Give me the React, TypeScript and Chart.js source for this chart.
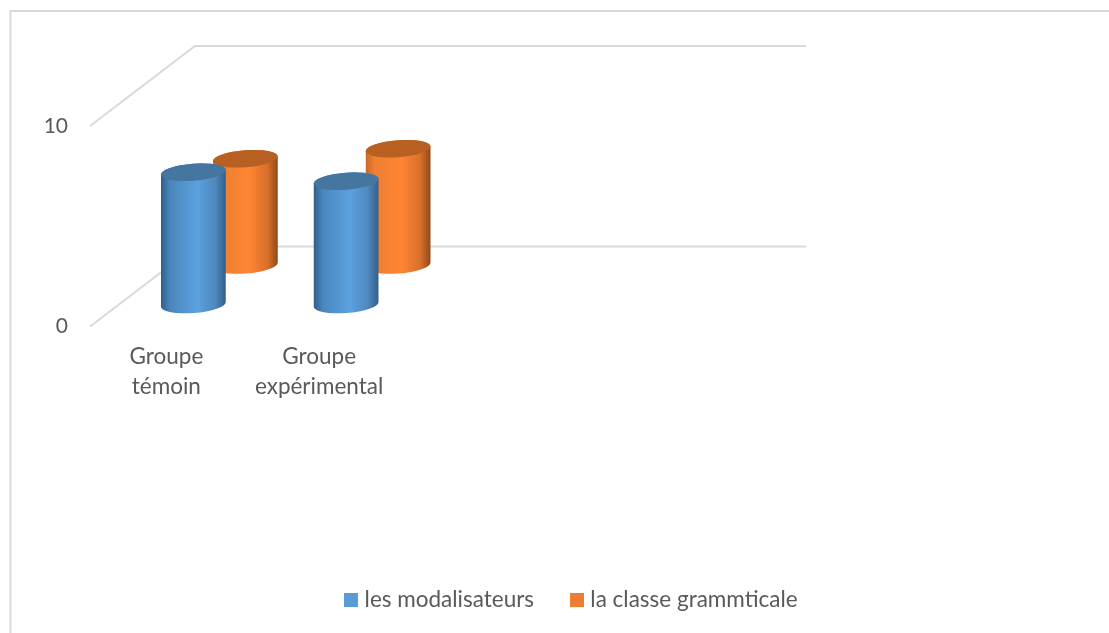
import React, { useEffect, useRef } from "react";
import { Chart, registerables } from "chart.js";

Chart.register(...registerables);

const categories = [["Groupe", "témoin"], ["Groupe", "expérimental"], "", ""];
const modalisateurs = [6.6, 6.15, null, null];
const classeGrammaticale = [5.3, 5.8, null, null];
const seriesNames = ["les modalisateurs", "la classe grammticale"];
const seriesColors = ["#5B9BD5", "#ED7D31"];

const FONT = "Lato, Carlito, sans-serif";
const GRID = "#D9D9D9";
const TEXT = "#595959";
const WALL = { dx: 105, dy: 80 };
const DEPTH = [
  { dx: 27, dy: 22 },
  { dx: 79, dy: 61.5 },
];
const SHADES = [
  { stops: ["#2F5F8B", "#4A86BC", "#5BA1E0", "#4F88BD", "#315F88"], top: "#44769F" },
  { stops: ["#C66A28", "#EF7F32", "#FF8533", "#D96F2A", "#8F4A17"], top: "#B86022" },
];
const STOP_AT = [0, 0.14, 0.55, 0.84, 1];
const TILT = -0.075;
const RY = 8.5;

const frameAndWalls = {
  id: "frameAndWalls",
  beforeDatasetsDraw(chart: any) {
    const { ctx, scales } = chart;
    const { x, y } = scales;
    ctx.save();
    ctx.strokeStyle = GRID;
    ctx.lineWidth = 2;
    ctx.beginPath();
    ctx.moveTo(10.5, 633);
    ctx.lineTo(10.5, 11);
    ctx.lineTo(1109, 11);
    ctx.stroke();
    y.ticks.forEach((t: any) => {
      const py = y.getPixelForValue(t.value);
      ctx.beginPath();
      ctx.moveTo(x.left, py);
      ctx.lineTo(x.left + WALL.dx, py - WALL.dy);
      ctx.lineTo(x.right + WALL.dx, py - WALL.dy);
      ctx.stroke();
    });
    ctx.restore();
  },
  beforeDatasetDraw(chart: any, args: any) {
    const { ctx } = chart;
    const i = args.index;
    const depth = DEPTH[i];
    const shade = SHADES[i];
    chart.getDatasetMeta(i).data.forEach((bar: any) => {
      const p = bar.getProps(["x", "y", "base", "width"], true);
      if (!Number.isFinite(p.y) || p.y === p.base) return;
      const cx = p.x + depth.dx;
      const top = p.y - depth.dy;
      const bottom = p.base - depth.dy;
      const rx = p.width / 2;
      const g = ctx.createLinearGradient(cx - rx, 0, cx + rx, 0);
      STOP_AT.forEach((s, k) => g.addColorStop(s, shade.stops[k]));
      ctx.save();
      ctx.fillStyle = g;
      ctx.beginPath();
      ctx.ellipse(cx, bottom, rx, RY, TILT, Math.PI, 0, true);
      ctx.ellipse(cx, top, rx, RY, TILT, 0, Math.PI, true);
      ctx.closePath();
      ctx.fill();
      ctx.fillStyle = shade.top;
      ctx.beginPath();
      ctx.ellipse(cx, top, rx, RY, TILT, 0, Math.PI * 2);
      ctx.fill();
      ctx.restore();
    });
    return false;
  },
};

function swatch(color: string) {
  const c = document.createElement("canvas");
  c.width = 14;
  c.height = 14;
  const g = c.getContext("2d")!;
  g.fillStyle = color;
  g.fillRect(0, 0, 14, 14);
  return c;
}

export default function App() {
  const ref = useRef<HTMLCanvasElement>(null);
  useEffect(() => {
    const chart = new Chart(ref.current!, {
      type: "bar",
      data: {
        labels: categories as any,
        datasets: [
          { label: seriesNames[0], data: modalisateurs, backgroundColor: seriesColors[0], grouped: false },
          { label: seriesNames[1], data: classeGrammaticale, backgroundColor: seriesColors[1], grouped: false },
        ] as any,
      },
      plugins: [frameAndWalls],
      options: {
        responsive: false,
        animation: false,
        datasets: { bar: { categoryPercentage: 1, barPercentage: 0.425 } },
        layout: { padding: { left: 38, right: 0, top: 126, bottom: 12 } },
        plugins: {
          title: { display: false },
          tooltip: { enabled: false },
          legend: {
            position: "bottom",
            labels: {
              color: TEXT,
              font: { family: FONT, size: 22.5 },
              padding: 41,
              boxWidth: 14,
              boxHeight: 14,
              usePointStyle: true,
              pointStyleWidth: 4,
              generateLabels: (c: any) =>
                Chart.defaults.plugins.legend.labels
                  .generateLabels(c)
                  .map((item: any, i: number) => ({ ...item, pointStyle: swatch(seriesColors[i]) })),
            },
          },
        },
        scales: {
          x: {
            grid: { display: false },
            border: { display: false },
            ticks: {
              color: TEXT,
              font: { family: FONT, size: 22.5, lineHeight: 1.3 },
              padding: 8,
              maxRotation: 0,
              autoSkip: false,
            },
            afterFit(s: any) {
              s.height = 221;
            },
          },
          y: {
            min: 0,
            max: 10,
            grid: { display: false },
            border: { display: false },
            ticks: {
              stepSize: 10,
              color: TEXT,
              font: { family: FONT, size: 21 },
              padding: 14,
            },
            afterFit(s: any) {
              s.width = 52;
            },
          },
          y2: {
            position: "right",
            display: true,
            grid: { display: false },
            border: { display: false },
            ticks: { display: false },
            afterFit(s: any) {
              s.width = 408;
            },
          },
        },
      } as any,
    });
    return () => chart.destroy();
  }, []);
  return (
    <canvas
      ref={ref}
      width={1109}
      height={633}
      style={{ position: "fixed", left: 0, top: 0, display: "block" }}
    />
  );
}
